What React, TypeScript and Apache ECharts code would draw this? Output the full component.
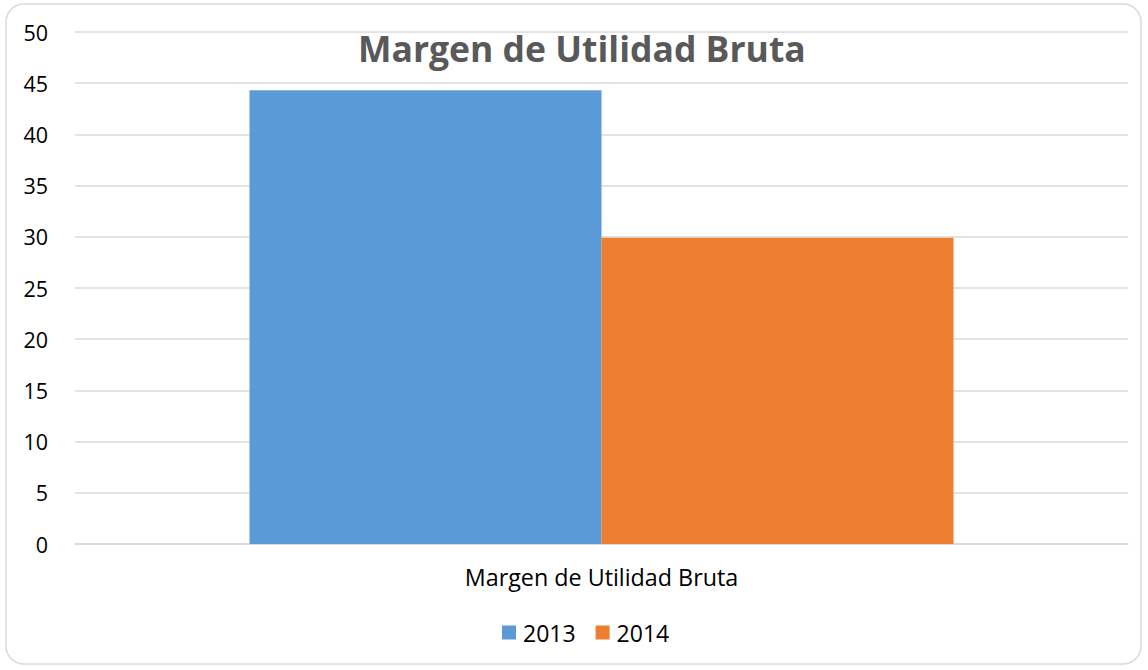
import React, { useEffect, useRef } from "react";
import * as echarts from "echarts";

const categories = ["Margen de Utilidad Bruta"];
const seriesNames = ["2013", "2014"];
const values2013 = [44.3];
const values2014 = [29.9];
const yTicks = { min: 0, max: 50, interval: 5 };
const colors = ["#5b9bd5", "#ed7d31"];
const FONT = "'Open Sans', sans-serif";

export default function App() {
  const ref = useRef<HTMLDivElement>(null);
  useEffect(() => {
    document.body.style.margin = "0";
    const chart = echarts.init(ref.current!, null, { renderer: "svg" });
    chart.setOption({
      animation: false,
      backgroundColor: "#ffffff",
      textStyle: { fontFamily: FONT },
      title: {
        text: "Margen de Utilidad Bruta",
        left: 353,
        top: 25,
        textStyle: { fontFamily: FONT, fontSize: 35.5, fontWeight: "bold", color: "#595959" },
      },
      graphic: [
        {
          type: "rect",
          shape: { x: 6, y: 4, width: 1135, height: 660, r: 18 },
          style: { fill: "none", stroke: "#d9d9d9", lineWidth: 1.5 },
          silent: true,
          z: -1,
        },
      ],
      legend: {
        data: seriesNames,
        top: 621,
        left: 502,
        padding: 0,
        itemWidth: 14,
        itemHeight: 14,
        itemGap: 20,
        icon: "rect",
        textStyle: { fontFamily: FONT, fontSize: 23, color: "#000", padding: [0, 0, 0, 2] },
      },
      grid: { left: 75, right: 20, top: 32, bottom: 126 },
      xAxis: {
        type: "category",
        data: categories,
        axisLine: { lineStyle: { color: "#d9d9d9", width: 1.5 } },
        axisTick: { show: false },
        axisLabel: { fontFamily: FONT, fontSize: 23.3, color: "#000", margin: 21 },
      },
      yAxis: {
        type: "value",
        min: yTicks.min,
        max: yTicks.max,
        interval: yTicks.interval,
        axisLine: { show: false },
        axisTick: { show: false },
        splitLine: { lineStyle: { color: "#d9d9d9", width: 1.5 } },
        axisLabel: { fontFamily: FONT, fontSize: 21.5, color: "#000", margin: 27 },
      },
      series: [
        { name: seriesNames[0], type: "bar", data: values2013, barWidth: 352, barGap: "0%", itemStyle: { color: colors[0] } },
        { name: seriesNames[1], type: "bar", data: values2014, barWidth: 352, barGap: "0%", itemStyle: { color: colors[1] } },
      ],
    });
    return () => chart.dispose();
  }, []);
  return <div ref={ref} style={{ position: "absolute", left: 0, top: 0, width: 1148, height: 670 }} />;
}
